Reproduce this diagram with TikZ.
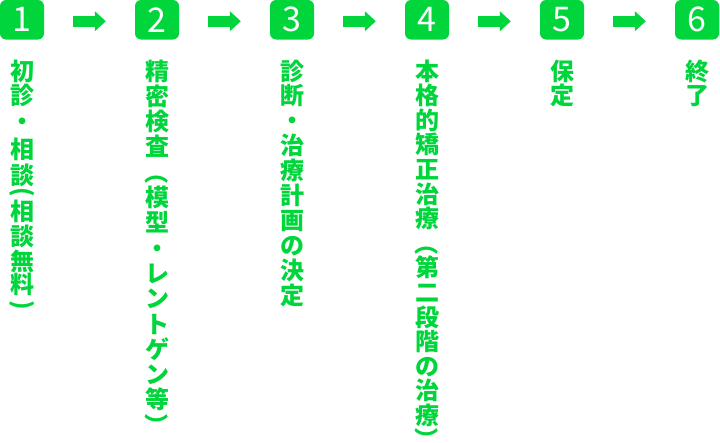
\documentclass[tikz,border=0pt]{standalone}
\usepackage{fontspec}
\usepackage{graphicx}
\newfontfamily\jpfont{Noto Sans CJK JP}
\usetikzlibrary{arrows.meta}
\definecolor{stepgreen}{RGB}{0,214,60}
\newcommand{\vopen}{\rotatebox[origin=c]{-90}{（}}
\newcommand{\vclose}{\rotatebox[origin=c]{-90}{）}}
\newcommand{\hopen}{\rotatebox[origin=c]{-90}{(}}
\newcommand{\hclose}{\rotatebox[origin=c]{-90}{)}}
\tikzset{
  stepnum/.style={fill=stepgreen, rounded corners=6pt, minimum width=44pt, minimum height=39.5pt,
    inner sep=0pt, text=white, font=\jpfont\fontsize{34}{34}\selectfont},
  stepflow/.style={draw=stepgreen, line width=11pt, -{Triangle[length=11pt,width=19.5pt]},
    shorten <=29pt, shorten >=29pt},
  vchar/.style={inner sep=0pt, text=stepgreen, text height=21pt, text depth=3pt,
    font=\jpfont\bfseries\fontsize{24}{24}\selectfont}
}
\begin{document}
\begin{tikzpicture}[x=1pt,y=-1pt]
\useasboundingbox (0,0) rectangle (720,442);

\foreach \n in {1,...,6}
  \node[stepnum] (b\n) at ({22+135*(\n-1)},19.75) {\n};
\foreach \n [count=\m from 2] in {1,...,5}
  \draw[stepflow] ([yshift=-1.5pt]b\n.east) -- ([yshift=-1.5pt]b\m.west);

\foreach \y/\ch [count=\i] in {71/初,95/診,121/・,149/相,175/談,191/\hopen,211/相,236/談,261/無,284/料,304/\hclose}
  \node[vchar] (t1-\i) at (22,\y) {\ch};
\foreach \ch [count=\i from 0] in {精,密,検,査,\vopen,模,型,・,レ,ン,ト,ゲ,ン,等,\vclose}
  \node[vchar] (t2-\i) at (157,71+25.3*\i) {\ch};
\foreach \ch [count=\i from 0] in {診,断,・,治,療,計,画,の,決,定}
  \node[vchar] (t3-\i) at (292,71+24.9*\i) {\ch};
\foreach \ch [count=\i from 0] in {本,格,的,矯,正,治,療,\vopen,第,二,段,階,の,治,療,\vclose}
  \node[vchar] (t4-\i) at (427,71+24.6*\i) {\ch};
\foreach \ch [count=\i from 0] in {保,定}
  \node[vchar] (t5-\i) at (562,71+24.5*\i) {\ch};
\foreach \ch [count=\i from 0] in {終,了}
  \node[vchar] (t6-\i) at (697,71+24.5*\i) {\ch};
\end{tikzpicture}
\end{document}
